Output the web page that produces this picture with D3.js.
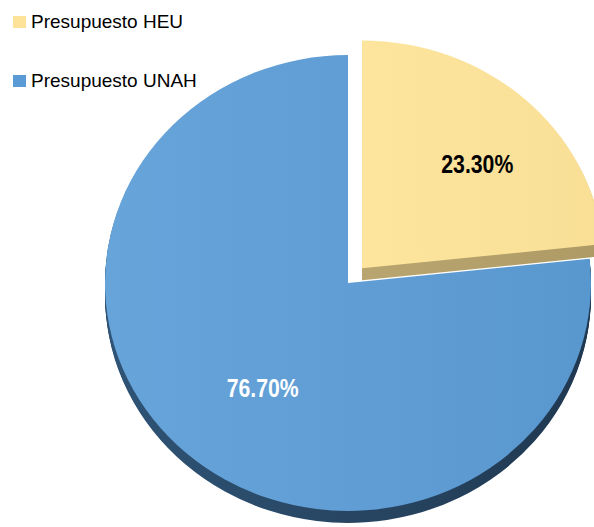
<!DOCTYPE html>
<html>
<head>
    <title>pie presupuesto</title>
    <script src="https://d3js.org/d3.v7.min.js"></script>
    <style>
        body{margin:0;background:#fff;}
    </style>
</head>
<body>
    <script>
var w=594;
var h=527;

// datos
var categorias=["Presupuesto HEU","Presupuesto UNAH"];
var valores=[23.3,76.7];
var etiquetas=["23.30%","76.70%"];

// colores: cara superior (izq, der), lado, texto
var colorCara=[["#fde59e","#f9df96"],["#67a4da","#5997cf"]];
var colorLado=[["#b8a56f","#ad9a64"],["#2f5476","#203850"]];
var colorTexto=["#000","#fff"];
var colorLeyenda=["#fde29a","#5b9bd5"];

var cx=348, cy=283;
var radio=243;
var k=0.938;          // inclinacion (ry/rx)
var grosor=12;        // alto del borde 3D
var separacion=[21,0];// explosion de cada trozo

var svg=d3.select("body")
    .append("svg")
    .attr("width",w)
    .attr("height",h);

var defs=svg.append("defs");
function degradado(id,c){
    var g=defs.append("linearGradient").attr("id",id)
        .attr("x1","0%").attr("y1","0%").attr("x2","100%").attr("y2","0%");
    g.append("stop").attr("offset","0%").attr("stop-color",c[0]);
    g.append("stop").attr("offset","100%").attr("stop-color",c[1]);
}
categorias.forEach(function(_,i){
    degradado("cara"+i,colorCara[i]);
    degradado("lado"+i,colorLado[i]);
});

var pie=d3.pie().sort(null).value(function(d){return d;});
var arcos=pie(valores);
var arc=d3.arc().innerRadius(0).outerRadius(radio);
var arcEtiqueta=d3.arc().innerRadius(150).outerRadius(150);

// dibujar primero el trozo grande (queda detras)
var orden=[1,0];
orden.forEach(function(i){
    var a=arcos[i];
    var medio=(a.startAngle+a.endAngle)/2;
    var ox=separacion[i]*Math.sin(medio);
    var oy=-separacion[i]*Math.cos(medio)*k;
    var g=svg.append("g")
        .attr("transform","translate("+(cx+ox)+","+(cy+oy)+")");

    // borde 3D: copias desplazadas hacia abajo
    for(var j=grosor;j>=1;j--){
        g.append("path")
            .attr("d",arc(a))
            .attr("transform","translate(0,"+j+") scale(1,"+k+")")
            .attr("fill","url(#lado"+i+")");
    }
    // cara superior
    g.append("path")
        .attr("d",arc(a))
        .attr("transform","scale(1,"+k+")")
        .attr("fill","url(#cara"+i+")");
});

// etiquetas de porcentaje
arcos.forEach(function(a,i){
    var medio=(a.startAngle+a.endAngle)/2;
    var c=arcEtiqueta.centroid(a);
    var ox=separacion[i]*Math.sin(medio);
    var oy=-separacion[i]*Math.cos(medio);
    svg.append("text")
        .attr("x",cx+c[0]+ox+15)
        .attr("y",cy+(c[1]+oy)*k+9)
        .attr("text-anchor","middle")
        .attr("font-family","Liberation Sans, Arial, sans-serif")
        .attr("font-weight","bold")
        .attr("font-size",25)
        .attr("textLength",72)
        .attr("lengthAdjust","spacingAndGlyphs")
        .style("fill",colorTexto[i])
        .text(etiquetas[i]);
});

// leyenda
var leyenda=svg.selectAll("g.leyenda")
    .data(categorias)
    .enter()
    .append("g")
    .attr("class","leyenda")
    .attr("transform",function(d,i){return "translate(13,"+(16+i*59)+")";});

leyenda.append("rect")
    .attr("width",13)
    .attr("height",12)
    .style("fill",function(d,i){return colorLeyenda[i];});

leyenda.append("text")
    .attr("x",18)
    .attr("y",12)
    .attr("font-family","Liberation Sans, Arial, sans-serif")
    .attr("font-size",19)
    .style("fill","#000")
    .text(function(d){return d;});
    </script>
</body>
</html>
